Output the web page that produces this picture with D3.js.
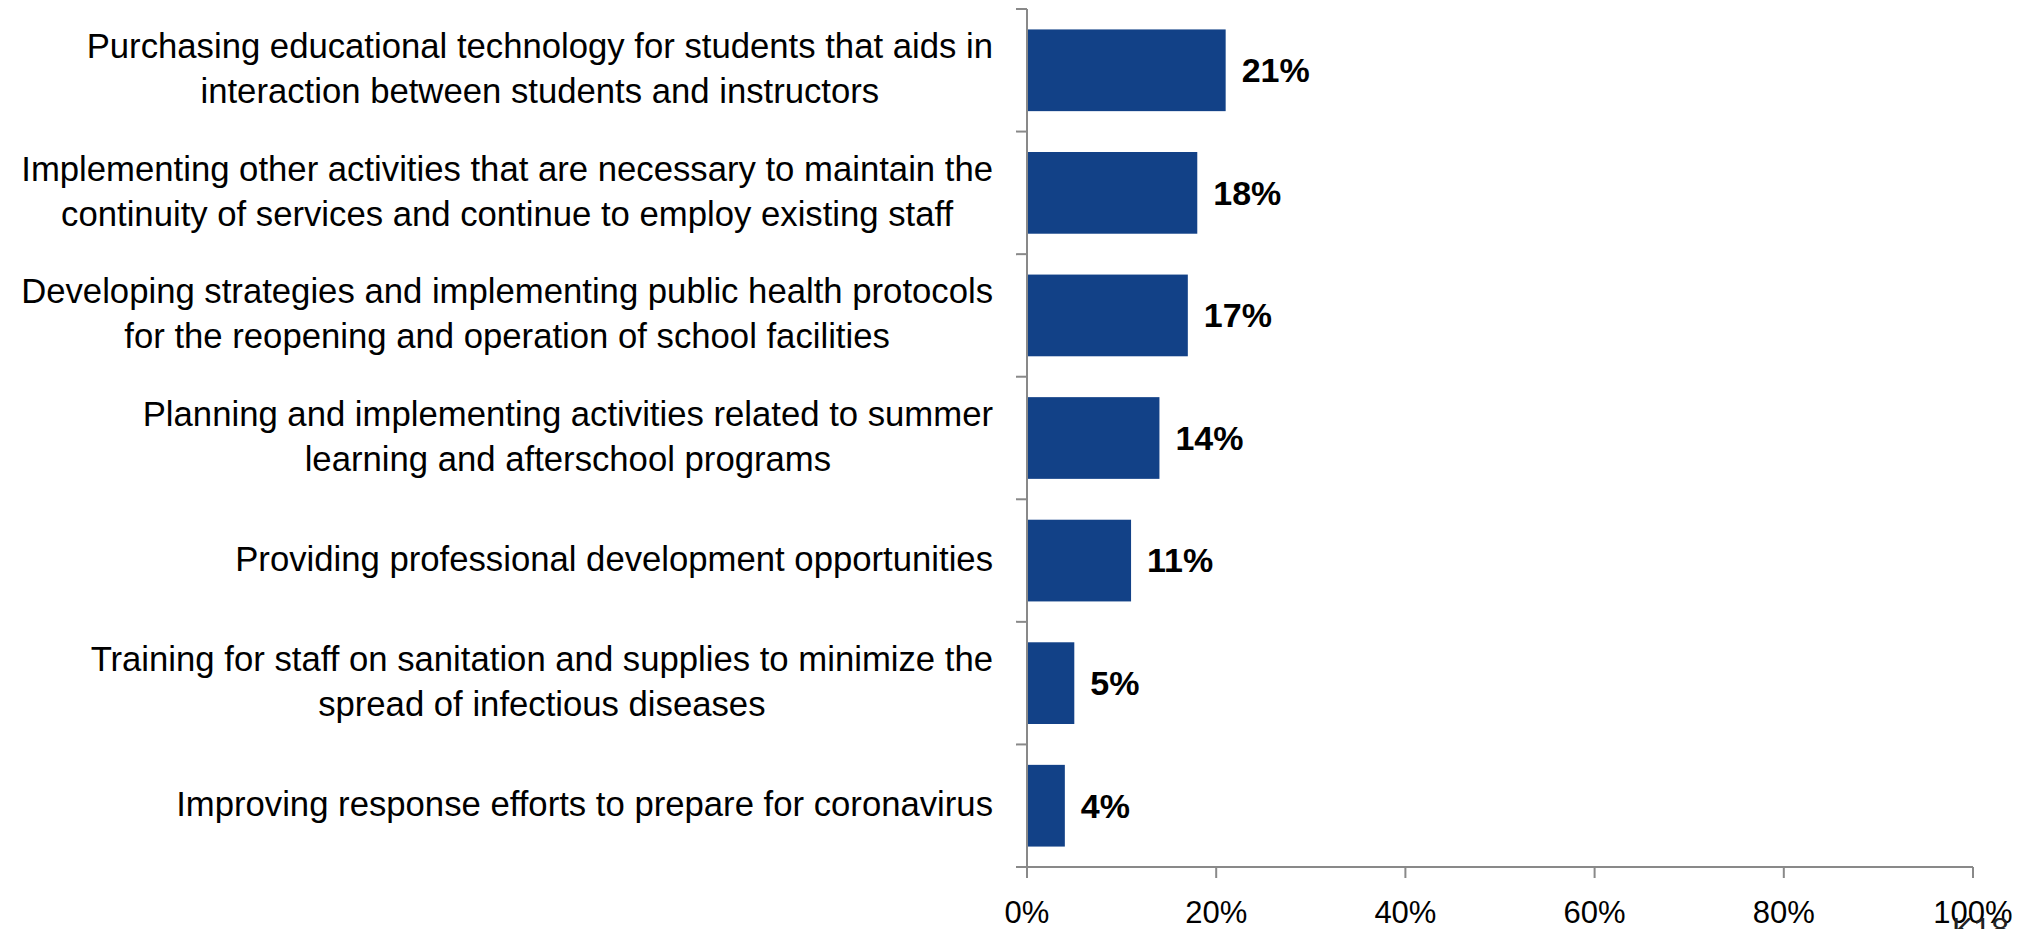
<!DOCTYPE html>
<html>
<head>
<meta charset="utf-8">
<script src="https://cdn.jsdelivr.net/npm/d3@7"></script>
<style>
    body { margin: 0; background: #fff; }
    text { font-family: "Liberation Sans Narrow", "Arial Narrow", "Liberation Sans", sans-serif; }
</style>
</head>
<body>
<svg id="chart" width="2028" height="929"></svg>
<script>
// categories, one entry per line of the label
const categories = [
    ["Purchasing educational technology for students that aids in", "interaction between students and instructors"],
    ["Implementing other activities that are necessary to maintain the", "continuity of services and continue to employ existing staff"],
    ["Developing strategies and implementing public health protocols", "for the reopening and operation of school facilities"],
    ["Planning and implementing activities related to summer", "learning and afterschool programs"],
    ["Providing professional development opportunities"],
    ["Training for staff on sanitation and supplies to minimize the", "spread of infectious diseases"],
    ["Improving response efforts to prepare for coronavirus"]
];
const values = [21, 18, 17, 14, 11, 5, 4];
const tickValues = [0, 20, 40, 60, 80, 100];
const footerText = "K18";

const svg = d3.select("#chart");
const axisColor = "#898989";
const barColor = "#124187";

//scales
let x = d3.scaleLinear().domain([0, 100]).range([1027, 1973]);
let y = d3.scaleBand()
    .domain(d3.range(categories.length))
    .range([9, 867])
    .paddingInner(1 / 3)
    .paddingOuter(1 / 6);

//bars
svg.selectAll("rect.bar").data(values).enter().append("rect")
    .attr("class", "bar")
    .attr("x", x(0))
    .attr("y", (d, i) => y(i))
    .attr("width", d => x(d) - x(0))
    .attr("height", y.bandwidth())
    .attr("fill", barColor);

//value labels
svg.selectAll("text.value").data(values).enter().append("text")
    .attr("class", "value")
    .attr("x", d => x(d) + 16)
    .attr("y", (d, i) => y(i) + y.bandwidth() / 2)
    .attr("dy", "0.35em")
    .attr("font-size", 34)
    .attr("font-weight", "bold")
    .attr("fill", "#000")
    .text(d => d + "%");

//category axis (vertical line + ticks between the bands)
let step = y.step();
let yAxis = svg.append("g");
yAxis.append("line")
    .attr("x1", x(0)).attr("x2", x(0))
    .attr("y1", y.range()[0]).attr("y2", y.range()[1] + 11)
    .attr("stroke", axisColor).attr("stroke-width", 2);
yAxis.selectAll("line.tick").data(d3.range(categories.length + 1)).enter().append("line")
    .attr("class", "tick")
    .attr("x1", x(0) - 11).attr("x2", x(0))
    .attr("y1", i => y.range()[0] + i * step)
    .attr("y2", i => y.range()[0] + i * step)
    .attr("stroke", axisColor).attr("stroke-width", 2);

//category labels: block right aligned, lines centred inside the block
let labelRight = x(0) - 34;
let lineGap = 45;
categories.forEach((lines, i) => {
    let g = svg.append("g");
    let cy = y(i) + y.bandwidth() / 2;
    let texts = lines.map((ln, j) => g.append("text")
        .attr("y", cy + (j - (lines.length - 1) / 2) * lineGap)
        .attr("dy", "0.3em")
        .attr("font-size", 34.7)
        .attr("fill", "#000")
        .attr("text-anchor", "middle")
        .text(ln));
    let w = d3.max(texts, t => t.node().getComputedTextLength());
    texts.forEach(t => t.attr("x", labelRight - w / 2));
});

//value axis
let xAxis = svg.append("g").attr("transform", "translate(0," + y.range()[1] + ")");
xAxis.append("line")
    .attr("x1", x(0) - 11).attr("x2", x(100))
    .attr("stroke", axisColor).attr("stroke-width", 2);
xAxis.selectAll("line.tick").data(tickValues).enter().append("line")
    .attr("class", "tick")
    .attr("x1", d => x(d)).attr("x2", d => x(d))
    .attr("y1", 0).attr("y2", 11)
    .attr("stroke", axisColor).attr("stroke-width", 2);
xAxis.selectAll("text").data(tickValues).enter().append("text")
    .attr("x", d => x(d))
    .attr("y", 56)
    .attr("font-size", 31)
    .attr("text-anchor", "middle")
    .attr("fill", "#000")
    .text(d => d + "%");

//clipped footer text at the bottom edge
svg.append("text")
    .attr("x", 1952)
    .attr("y", 940)
    .attr("font-size", 32)
    .attr("fill", "#222")
    .text(footerText);
</script>
</body>
</html>
